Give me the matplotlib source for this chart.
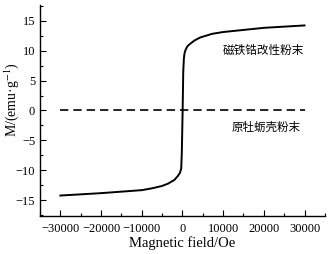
import matplotlib
matplotlib.use("Agg")
import matplotlib.pyplot as plt
from matplotlib.ticker import MultipleLocator

plt.rcParams['font.family'] = ['Liberation Serif', 'Noto Sans CJK SC']
plt.rcParams['mathtext.fontset'] = 'stix'

field = [-30000, -20000, -10000, -7500, -5000, -3500, -2000, -1200, -600, -300, -150, 50,
         200, 350, 500, 750, 1200, 2000, 3000, 4400, 7300, 10000, 20000, 30000]
m_modified = [-14.2, -13.8, -13.3, -13.0, -12.6, -12.2, -11.6, -11.0, -10.4, -9.7, -7.0, 0.0,
              6.5, 8.6, 9.5, 10.1, 10.7, 11.2, 11.7, 12.2, 12.8, 13.1, 13.8, 14.2]
field_raw = [-30000, 30000]
m_raw = [0.0, 0.0]

label_modified = "磁铁锆改性粉末"
label_raw = "原牡蛎壳粉末"

fig = plt.figure(figsize=(3.32, 2.54), dpi=100)
ax = fig.add_axes([0.1205, 0.15, 0.858, 0.83])

ax.plot(field, m_modified, color='black', lw=1.4)
ax.plot(field_raw, m_raw, color='black', lw=1.2, ls=(0, (5, 3)))

ax.set_xlim(-35000, 35000)
ax.set_ylim(-17.6, 17.6)
ax.xaxis.set_major_locator(MultipleLocator(10000))
ax.xaxis.set_minor_locator(MultipleLocator(5000))
ax.yaxis.set_major_locator(MultipleLocator(5))
ax.yaxis.set_minor_locator(MultipleLocator(2.5))
ax.tick_params(which='both', direction='in', labelsize=9, width=0.8)
ax.tick_params(which='major', length=4)
ax.tick_params(which='minor', length=2)
ax.tick_params(axis='x', pad=5)
ax.set_xticks([-30000, -20000, -10000, 0, 10000, 20000, 30000])
for s in ['top', 'right']:
    ax.spines[s].set_visible(False)
for s in ['left', 'bottom']:
    ax.spines[s].set_linewidth(1.0)

ax.set_xlabel('Magnetic field/Oe', fontsize=10.5, labelpad=1)
ax.set_ylabel('M/(emu·g$^{-1}$)', fontsize=10)
ax.yaxis.set_label_coords(-0.068, 0.55)

ax.text(30000, 10.0, label_modified, ha='right', va='center', fontsize=8.4)
ax.text(29000, -2.9, label_raw, ha='right', va='center', fontsize=8.3)

fig.savefig('out.png', dpi=100)
